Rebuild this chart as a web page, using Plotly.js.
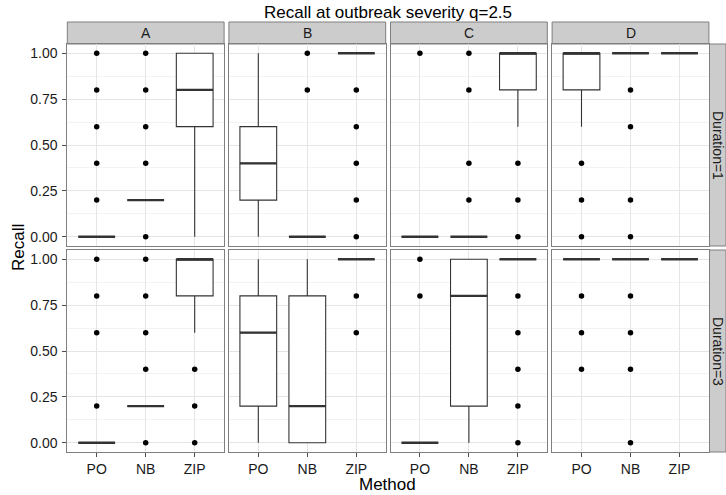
<!DOCTYPE html>
<html><head><meta charset="utf-8">
<script src="https://cdn.plot.ly/plotly-3.0.1.min.js"></script>
<style>html,body{margin:0;padding:0;background:#fff}</style>
</head><body><div id="chart" style="width:726px;height:495px"></div>
<script>
const facetCols = ['A', 'B', 'C', 'D'];
const facetRows = ['Duration=1', 'Duration=3'];
const methods = ['PO', 'NB', 'ZIP'];
const yTicks = [0, 0.25, 0.5, 0.75, 1];
const yTickText = ['0.00', '0.25', '0.50', '0.75', '1.00'];
const yMinor = [0.125, 0.375, 0.625, 0.875];

// values ordered A-PO, A-NB, A-ZIP, B-PO, B-NB, B-ZIP, C-PO, C-NB, C-ZIP, D-PO, D-NB, D-ZIP
const d1_low = [0, 0.2, 0,   0,   0, 1, 0, 0, 0.6, 0.6, 1, 1];
const d1_q1  = [0, 0.2, 0.6, 0.2, 0, 1, 0, 0, 0.8, 0.8, 1, 1];
const d1_med = [0, 0.2, 0.8, 0.4, 0, 1, 0, 0, 1,   1,   1, 1];
const d1_q3  = [0, 0.2, 1,   0.6, 0, 1, 0, 0, 1,   1,   1, 1];
const d1_high= [0, 0.2, 1,   1,   0, 1, 0, 0, 1,   1,   1, 1];
const d1_out = [[0.2,0.4,0.6,0.8,1],[0,0.4,0.6,0.8,1],[],
                [],[0.8,1],[0,0.2,0.4,0.6,0.8],
                [1],[0.2,0.4,0.8,1],[0,0.2,0.4],
                [0,0.2,0.4],[0,0.2,0.6,0.8],[]];

const d3_low = [0, 0.2, 0.6, 0,   0,   1, 0, 0,   1, 1, 1, 1];
const d3_q1  = [0, 0.2, 0.8, 0.2, 0,   1, 0, 0.2, 1, 1, 1, 1];
const d3_med = [0, 0.2, 1,   0.6, 0.2, 1, 0, 0.8, 1, 1, 1, 1];
const d3_q3  = [0, 0.2, 1,   0.8, 0.8, 1, 0, 1,   1, 1, 1, 1];
const d3_high= [0, 0.2, 1,   1,   1,   1, 0, 1,   1, 1, 1, 1];
const d3_out = [[0.2,0.6,0.8,1],[0,0.4,0.6,0.8,1],[0,0.2,0.4],
                [],[],[0.6,0.8],
                [0.8,1],[],[0,0.2,0.4,0.6,0.8],
                [0.4,0.6,0.8],[0,0.4,0.6,0.8],[]];

const rowsData = [
  {low: d1_low, q1: d1_q1, med: d1_med, q3: d1_q3, high: d1_high, out: d1_out},
  {low: d3_low, q1: d3_q1, med: d3_med, q3: d3_q3, high: d3_high, out: d3_out}
];

const W = 726, H = 495;
const colLeft = [67.3, 228.9, 390.5, 552.1], colW = 156.8;
const rowTop = [44, 250], rowH = 202;
const boxW = 0.75;
const fontFam = 'Liberation Sans, Arial, Helvetica, sans-serif';
const pos = methods.map((m, i) => i + 1);

const traces = [];
const layout = {
  width: W, height: H,
  margin: {l: 0, r: 0, t: 0, b: 0},
  paper_bgcolor: '#ffffff', plot_bgcolor: '#ffffff',
  showlegend: false,
  font: {family: fontFam, color: '#1a1a1a'},
  title: {text: 'Recall at outbreak severity q=2.5', x: 388 / W, xanchor: 'center',
          y: 1 - 12 / H, yanchor: 'middle', font: {size: 17, color: '#000'}},
  shapes: [], annotations: []
};

for (let r = 0; r < 2; r++) {
  for (let c = 0; c < 4; c++) {
    const k = r * 4 + c + 1;
    const xa = 'x' + (k === 1 ? '' : k), ya = 'y' + (k === 1 ? '' : k);
    const idx = [0, 1, 2].map(i => c * 3 + i);
    const D = rowsData[r];
    traces.push({
      type: 'box', xaxis: xa, yaxis: ya, x: pos,
      q1: idx.map(i => D.q1[i]), median: idx.map(i => D.med[i]), q3: idx.map(i => D.q3[i]),
      lowerfence: idx.map(i => D.low[i]), upperfence: idx.map(i => D.high[i]),
      boxpoints: false, width: boxW, whiskerwidth: 0,
      fillcolor: '#ffffff', line: {color: '#333333', width: 1.1}, hoverinfo: 'skip'
    });
    // thicker median segments
    const mx = [], my = [];
    idx.forEach((i, j) => { mx.push(pos[j] - boxW / 2, pos[j] + boxW / 2, null); my.push(D.med[i], D.med[i], null); });
    traces.push({type: 'scatter', mode: 'lines', xaxis: xa, yaxis: ya, x: mx, y: my,
      line: {color: '#333333', width: 2.4}, hoverinfo: 'skip'});
    // outliers
    const ox = [], oy = [];
    idx.forEach((i, j) => D.out[i].forEach(v => { ox.push(pos[j]); oy.push(v); }));
    traces.push({type: 'scatter', mode: 'markers', xaxis: xa, yaxis: ya, x: ox, y: oy,
      marker: {color: '#000000', size: 5.5}, hoverinfo: 'skip'});

    const xd = [colLeft[c] / W, (colLeft[c] + colW) / W];
    const yd = [1 - (rowTop[r] + rowH) / H, 1 - rowTop[r] / H];
    layout['xaxis' + (k === 1 ? '' : k)] = {
      domain: xd, anchor: ya, range: [0.4, 3.6],
      tickvals: pos, ticktext: methods, showticklabels: r === 1,
      ticks: r === 1 ? 'outside' : '', ticklen: 4, tickcolor: '#4d4d4d', tickwidth: 1,
      tickfont: {size: 14, color: '#1a1a1a'},
      showgrid: true, gridcolor: '#e5e5e5', gridwidth: 1, zeroline: false,
      showline: true, mirror: true, linecolor: '#7f7f7f', linewidth: 1
    };
    layout['yaxis' + (k === 1 ? '' : k)] = {
      domain: yd, anchor: xa, range: [-0.05, 1.05],
      tickvals: yTicks, ticktext: yTickText, showticklabels: c === 0,
      ticks: c === 0 ? 'outside' : '', ticklen: 4, tickcolor: '#4d4d4d', tickwidth: 1,
      tickfont: {size: 14, color: '#1a1a1a'}, ticklabelstandoff: 2,
      showgrid: true, gridcolor: '#e5e5e5', gridwidth: 1, zeroline: false,
      minor: {tickvals: yMinor, showgrid: true, gridcolor: '#f3f3f3', gridwidth: 1, ticks: ''},
      showline: true, mirror: true, linecolor: '#7f7f7f', linewidth: 1
    };
  }
}

// top strips
facetCols.forEach((lab, c) => {
  layout.shapes.push({type: 'rect', xref: 'paper', yref: 'paper',
    x0: colLeft[c] / W, x1: (colLeft[c] + colW) / W, y0: 1 - 44 / H, y1: 1 - 22 / H,
    fillcolor: '#cccccc', line: {color: '#7f7f7f', width: 1}, layer: 'below'});
  layout.annotations.push({xref: 'paper', yref: 'paper', x: (colLeft[c] + colW / 2) / W, y: 1 - 33 / H,
    text: lab, showarrow: false, xanchor: 'center', yanchor: 'middle', font: {size: 14, color: '#1a1a1a'}});
});
// right strips
facetRows.forEach((lab, r) => {
  layout.shapes.push({type: 'rect', xref: 'paper', yref: 'paper',
    x0: 709.5 / W, x1: 726 / W, y0: 1 - (rowTop[r] + rowH) / H, y1: 1 - rowTop[r] / H,
    fillcolor: '#cccccc', line: {color: '#7f7f7f', width: 1}, layer: 'below'});
  layout.annotations.push({xref: 'paper', yref: 'paper', x: 718 / W, y: 1 - (rowTop[r] + rowH / 2) / H,
    text: lab, textangle: 90, showarrow: false, xanchor: 'center', yanchor: 'middle', font: {size: 14, color: '#1a1a1a'}});
});
// axis titles
layout.annotations.push({xref: 'paper', yref: 'paper', x: 388 / W, y: 1 - 484 / H, text: 'Method',
  showarrow: false, xanchor: 'center', yanchor: 'middle', font: {size: 17, color: '#000'}});
layout.annotations.push({xref: 'paper', yref: 'paper', x: 18 / W, y: 1 - 248 / H, text: 'Recall', textangle: -90,
  showarrow: false, xanchor: 'center', yanchor: 'middle', font: {size: 17, color: '#000'}});

Plotly.newPlot('chart', traces, layout, {displayModeBar: false, staticPlot: true});
</script></body></html>
